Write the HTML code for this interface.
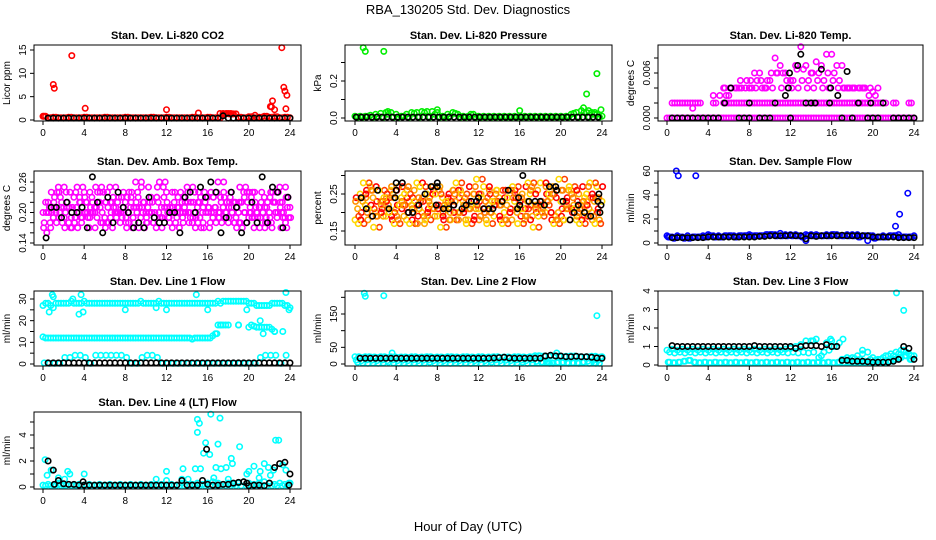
<!DOCTYPE html>
<html><head><meta charset="utf-8"><style>
body{margin:0;background:#fff;}
svg{display:block;font-family:"Liberation Sans",Arial,sans-serif;}
</style></head><body>
<svg id="chart" width="936" height="540" viewBox="0 0 936 540" xmlns="http://www.w3.org/2000/svg">
<text x="468" y="14" text-anchor="middle" font-size="13">RBA_130205  Std. Dev. Diagnostics</text>
<text x="468" y="531" text-anchor="middle" font-size="13">Hour of Day (UTC)</text>
</svg>
<script>
// ---- data ----
const H49 = []; for (let i = 0; i <= 48; i++) H49.push(i / 2);
const xTicks = [0, 4, 8, 12, 16, 20, 24];

// P1 CO2
const co2Red = [0.8,0.5,0.6,0.5,0.5,0.6,0.5,0.5,0.6,0.5,0.5,0.5,0.6,0.5,0.5,0.5,0.6,0.5,0.5,0.5,0.5,0.6,0.5,0.5,0.6,0.5,0.5,0.5,0.5,0.6,0.5,0.5,0.6,0.5,0.5,1.3,1.4,1.3,0.6,0.5,0.7,0.5,0.6,0.8,0.6,0.7,0.5,0.6,0.5];
const co2Black = [null,0.4,0.4,0.4,0.4,0.4,0.4,0.4,0.4,0.4,0.4,0.4,0.4,0.4,0.4,0.4,0.4,0.4,0.4,0.4,0.4,0.4,0.4,0.4,0.4,0.4,0.4,0.4,0.4,0.4,0.4,0.4,0.4,0.4,0.4,0.9,0.4,0.4,0.4,0.4,0.4,0.4,0.4,0.4,0.4,0.4,0.4,0.4,0.4];
const co2OutH = [0.1,1,1.1,2.8,4.1,12,15.1,17.2,17.5,17.8,18.1,18.4,20.6,22.1,22.3,22.5,23.2,23.4,23.5,23.6,23.7,22.2];
const co2OutV = [0.8,7.6,6.8,13.8,2.5,2.2,1.5,1.4,1.4,1.4,1.3,1.3,1,2.9,4.1,2.2,15.5,7,6.2,2.4,5.3,2.8];
const co2Ticks = [0,5,10,15]; const co2Labels = ["0","5","10","15"];

// P2 Pressure
const presGreen = [0.01,0.01,0.01,0.015,0.02,0.025,0.03,0.03,0.02,0.01,0.02,0.03,0.03,0.035,0.035,0.035,0.03,0.01,0.02,0.03,0.02,0.01,0.01,0.02,0.01,0.01,0.01,0.01,0.01,0.01,0.01,0.01,0.01,0.01,0.01,0.01,0.01,0.01,0.01,0.01,0.01,0.01,0.02,0.03,0.04,0.03,0.03,0.02,0.01];
const presGreen2 = [0.005,0.005,0.01,0.005,0.01,0.005,0.02,0.005,0.005,0.01,0.005,0.025,0.005,0.03,0.005,0.02,0.005,0.005,0.01,0.025,0.005,0.005,0.02,0.005,0.005,0.005,0.005,0.005,0.005,0.005,0.005,0.005,0.005,0.005,0.005,0.005,0.005,0.005,0.005,0.005,0.005,0.005,0.025,0.005,0.03,0.005,0.02,0.005,null];
const presBlack = [0.005,0.005,0.005,0.005,0.005,0.005,0.005,0.005,0.005,0.005,0.005,0.005,0.005,0.005,0.005,0.005,0.005,0.005,0.005,0.005,0.005,0.005,0.005,0.005,0.005,0.005,0.005,0.005,0.005,0.005,0.005,0.005,0.005,0.005,0.005,0.005,0.005,0.005,0.005,0.005,0.005,0.005,0.005,0.005,0.005,0.005,0.005,0.005,0.005];
const presOutH = [0.8,1,2.8,8,16,22.2,22.5,23.5,23.9,22.7,23.3,3.2];
const presOutV = [0.38,0.36,0.36,0.045,0.04,0.055,0.13,0.24,0.045,0.04,0.03,0.035];
const presTicks = [0,0.1,0.2,0.3]; const presLabels = ["0.0","","0.2",""];

// P3 Li-820 Temp
const tmpMag0 = [0,0,0,0,0,0,0,0,0,0,0,0,0,0,0,0,0,0,0,0,0,0,0,0,0,0,0,0,0,0,0,0,0,0,0,0,0,0,0,0,0,0,0,0,0,0,0,0,0];
const tmpMag2 = [null,0.002,0.002,0.002,0.002,0.002,0.002,null,null,0.002,null,0.002,0.002,0.002,0.002,0.002,0.002,0.002,0.002,0.002,0.002,0.002,0.002,0.002,0.002,0.002,0.002,0.002,0.002,0.002,0.002,0.002,0.002,0.002,0.002,0.002,0.002,0.002,0.002,0.002,0.002,0.002,0.002,null,0.002,null,null,0.002,null];
const tmpCloudA = [null,null,null,null,null,0.0013,null,null,null,0.003,null,0.004,0.003,null,0.004,null,0.004,0.006,0.006,0.004,0.005,0.008,0.007,0.006,0.005,0.007,0.0095,0.007,0.006,0.0075,0.007,0.0085,0.0085,0.007,0.007,0.004,0.004,null,0.004,null,0.0035,0.004,null,null,null,null,null,null,null];
const tmpCloudB = [null,null,null,null,null,null,null,null,null,null,null,0.003,0.004,0.004,0.004,0.005,0.004,0.005,0.004,0.005,0.004,0.006,0.006,0.004,0.005,0.004,0.0065,0.005,0.004,0.006,0.005,0.004,0.006,0.005,0.004,0.004,0.004,0.004,0.004,0.004,0.003,null,null,null,null,null,null,null,null];
const tmpBlackH = [0.5,1,1.5,2,2.5,3,3.5,4,4.5,5,7,7.5,8,9,9.5,10,12,17,18,19.5,20,20.5,22,22.5,23,23.5,24,5.6,8,10.5,13.5,14,14.4,15.8,18.6,19.8,21,6.2,11.5,11.8,11.9,13,12.7,15,15.9,16.6,17.5];
const tmpBlackV = [0,0,0,0,0,0,0,0,0,0,0,0,0,0,0,0,0,0,0,0,0,0,0,0,0,0,0,0.002,0.002,0.002,0.002,0.002,0.002,0.002,0.002,0.002,0.002,0.004,0.003,0.004,0.006,0.0085,0.007,0.0065,0.004,0.003,0.0062];
const tmpTicks = [0,0.002,0.004,0.006,0.008]; const tmpLabels = ["0.000","","","0.006",""];

// P4 Amb box temp
const ambA = [0.20,0.22,0.19,0.25,0.21,0.18,0.23,0.20,0.24,0.17,0.21,0.22,0.19,0.25,0.20,0.18,0.22,0.21,0.26,0.19,0.20,0.23,0.17,0.21,0.24,0.20,0.19,0.22,0.25,0.18,0.21,0.20,0.23,0.19,0.26,0.21,0.18,0.22,0.20,0.24,0.19,0.17,0.21,0.23,0.20,0.22,0.25,0.19,0.21];
const ambB = [0.18,0.21,0.23,0.20,0.17,0.24,0.19,0.22,0.20,0.21,0.25,0.18,0.22,0.20,0.19,0.23,0.17,0.24,0.20,0.21,0.18,0.22,0.25,0.19,0.20,0.21,0.23,0.18,0.20,0.22,0.24,0.17,0.21,0.20,0.19,0.23,0.22,0.18,0.25,0.20,0.21,0.22,0.19,0.18,0.24,0.20,0.17,0.23,0.20];
const ambC = [0.22,0.17,0.20,0.21,0.24,0.19,0.21,0.18,0.22,0.23,0.19,0.20,0.24,0.17,0.22,0.21,0.20,0.19,0.23,0.22,0.25,0.18,0.20,0.23,0.19,0.22,0.17,0.21,0.20,0.24,0.19,0.22,0.18,0.21,0.23,0.20,0.24,0.19,0.22,0.18,0.23,0.20,0.24,0.21,0.17,0.19,0.22,0.21,0.18];
const ambD = [0.16,0.20,0.24,0.18,0.22,0.21,0.17,0.25,0.19,0.20,0.22,0.24,0.18,0.21,0.23,0.20,0.24,0.18,0.21,0.17,0.22,0.20,0.19,0.26,0.21,0.18,0.24,0.20,0.22,0.19,0.17,0.23,0.20,0.24,0.18,0.22,0.20,0.21,0.17,0.22,0.24,0.19,0.20,0.18,0.22,0.24,0.20,0.19,0.23];
const ambBlack = [0.15,0.21,0.21,0.19,0.22,0.20,0.20,0.21,0.17,0.27,0.22,0.16,0.23,0.18,0.24,0.21,0.20,0.17,0.18,0.17,0.23,0.19,0.18,0.18,0.20,0.20,0.16,0.23,0.24,0.20,0.25,0.23,0.26,0.24,0.16,0.19,0.24,0.21,0.16,0.18,0.22,0.18,0.27,0.18,0.25,0.24,0.17,0.23,null];
const ambTicks = [0.14,0.16,0.18,0.20,0.22,0.24,0.26]; const ambLabels = ["0.14","","","0.20","","","0.26"];

// P5 Gas stream RH
const rhA = [0.18,0.25,0.22,0.27,0.20,0.23,0.19,0.26,0.21,0.24,0.18,0.22,0.28,0.20,0.25,0.21,0.19,0.24,0.22,0.26,0.20,0.23,0.18,0.25,0.21,0.27,0.22,0.19,0.24,0.20,0.26,0.23,0.21,0.18,0.25,0.22,0.28,0.20,0.24,0.19,0.23,0.21,0.26,0.18,0.22,0.25,0.20,0.27,0.23];
const rhB = [0.24,0.20,0.26,0.19,0.23,0.21,0.25,0.18,0.22,0.27,0.20,0.24,0.19,0.23,0.21,0.26,0.22,0.18,0.25,0.20,0.24,0.21,0.27,0.19,0.23,0.20,0.25,0.22,0.18,0.26,0.21,0.24,0.19,0.27,0.22,0.20,0.23,0.25,0.18,0.26,0.21,0.24,0.20,0.23,0.27,0.19,0.24,0.21,0.26];
const rhC = [0.21,0.23,0.18,0.24,0.26,0.19,0.22,0.24,0.27,0.19,0.23,0.26,0.21,0.17,0.24,0.19,0.27,0.21,0.20,0.23,0.26,0.18,0.22,0.21,0.25,0.18,0.20,0.26,0.23,0.22,0.18,0.20,0.25,0.23,0.19,0.26,0.21,0.23,0.27,0.20,0.18,0.26,0.22,0.25,0.19,0.21,0.23,0.18,0.24];
const rhD = [0.19,0.17,0.28,0.21,0.16,0.26,0.24,0.20,0.17,0.22,0.25,0.17,0.23,0.27,0.18,0.22,0.25,0.16,0.23,0.18,0.28,0.25,0.17,0.22,0.29,0.24,0.17,0.23,0.26,0.17,0.24,0.27,0.17,0.21,0.28,0.16,0.19,0.22,0.25,0.17,0.29,0.18,0.27,0.21,0.17,0.24,0.28,0.17,0.20];
const rhBlackH = [0.6,1.1,1.7,2.2,2.8,3.3,3.9,4,4,4.6,5.2,5.6,6.2,6.8,7.4,7.9,8,8,8.6,9.1,9.6,10.4,10.8,11.3,11.8,12,12.5,13,13.4,14.3,14.9,15.8,15.9,16,16.3,16.9,17.5,18,18.4,18.9,19.5,19.6,20.2,20.9,21.3,21.7,22.3,22.9,23.6,23.7,23.8,23.9];
const rhBlackV = [0.24,0.21,0.19,0.26,0.32,0.21,0.24,0.26,0.28,0.28,0.2,0.2,0.22,0.25,0.27,0.22,0.27,0.28,0.21,0.21,0.22,0.21,0.22,0.23,0.23,0.24,0.21,0.21,0.21,0.23,0.26,0.21,0.24,0.22,0.3,0.23,0.23,0.23,0.22,0.27,0.27,0.26,0.23,0.18,0.2,0.22,0.2,0.19,0.23,0.25,0.2,0.22];
const rhTicks = [0.15,0.20,0.25,0.30]; const rhLabels = ["0.15","","0.25",""];

// P6 Sample flow
const sfBlueA = [6,5,6,5,6,5,5,6,7,6,6,5,6,6,6,6,7,6,6,6,7,7,8,7,7,7,6,7,7,7,6,7,7,7,6,7,7,7,6,6,6,5,6,5,6,7,5,5,6];
const sfBlueB = [5,4,5,4,4,5,5,5,6,5,5,6,6,5,6,6,6,6,6,7,7,6,6,6,6,6,5,6,6,6,6,6,7,6,6,6,6,5,6,6,4,5,5,6,6,5,5,5,5];
const sfBlack = [null,4.5,4.5,4.5,4.5,4.5,4.5,4.5,5,5,5,5,5,5,5,5,5,5,5.5,5.5,6,6,6,6,6.5,6,6,3.5,6,5.5,6,6,6,6,6.5,6,6,6,6,6,5,5,5,5,5,4.5,4.5,4.5,4.5];
const sfOutH = [0.9,1.1,2.8,13.5,19.5,22.2,22.6,23.4];
const sfOutV = [60,56,56,2,2,14,24,41.5];
const sfTicks = [0,10,20,30,40,50,60]; const sfLabels = ["0","","20","","40","","60"];

// P7 Line 1
const l1HighA = [27,28,26,28,28,28,28,28,29,28,28,28,28,28,28,28,28,28,28,29,28,28,28,28,28,28,28,28,28,28,28,28,28,28,29,29,29,29,29,29,28,28,27,27,27,28,28,27,26];
const l1HighB = [28,27,28,28,28,29,28,28,28,28,28,28,28,28,28,28,28,28,28,28,28,28,29,28,28,28,28,28,28,28,28,28,28,28,28,29,29,29,29,29,28,27,27,27,28,28,28,27,25];
const l1MidA = [12.5,12,12,12,12,12,12,12,12,12,12,12,12,12,12,12,12,12,12,12,12,12,12,12,12,12,12,12,12,11.5,12,12,12,13,18,18,18,null,18,null,17,17.5,17,17,17,15,null,null,null];
const l1MidB = [12,12,12,12,12,12,12,12,12,12,12,12,12,12,12,12,12,12,12,12,12,12,12,12,12,12,12,12,12,12,12,12,12,14,18,18,null,null,null,null,18,17,17,17,16,null,null,null,null];
const l1Low = [0.5,0.3,0.3,0.3,3,3,4,4,3,0.3,4,4,4,4,4,4,3,0.3,0.3,3,4,4,3,0.3,0.3,0.3,0.3,0.3,0.3,0.3,0.3,0.3,0.3,0.3,0.3,0.3,0.3,0.3,0.3,0.3,0.3,0.3,3,4,4,4,0.3,4,0.3];
const l1Black = [null,0.5,0.5,0.5,0.5,0.5,0.5,0.5,0.5,0.5,0.5,0.5,0.5,0.5,0.5,0.5,0.5,0.5,0.5,0.5,0.5,0.5,0.5,0.5,0.5,0.5,0.5,0.5,0.5,0.5,0.5,0.5,0.5,0.5,0.5,0.5,0.5,0.5,0.5,0.5,0.5,0.5,0.5,0.5,0.5,0.5,0.5,0.5,0.5];
const l1OutH = [0.9,1,0.6,2.9,3.7,3.5,3.9,8,11,12,14.9,16,17.3,19,19.8,21.1,21.4,22.5,23.3,23.6,23.9,16.9];
const l1OutV = [32,31,24,30,32,23,24,25,26,25,32,25,18,18,25,20,14,15,15,33,25,14];
const l1Ticks = [0,5,10,15,20,25,30]; const l1Labels = ["0","","10","","20","","30"];

// P8 Line 2
const l2CyanA = [22,20,22,21,20,22,20,22,20,21,20,22,20,21,22,20,21,20,22,21,20,22,21,20,22,20,21,22,20,21,20,22,21,20,22,25,24,23,25,24,22,23,24,22,21,22,23,21,22];
const l2CyanB = [5,3,2,3,2,3,5,3,2,3,2,3,2,3,5,2,3,3,2,3,2,3,2,3,2,3,5,3,2,3,2,3,5,2,3,3,3,3,2,5,5,2,3,2,5,2,3,2,null];
const l2CyanC = [12,10,12,11,10,12,10,12,10,11,10,12,10,11,12,10,11,10,12,11,10,12,11,10,12,10,11,12,10,11,10,12,11,10,12,8,6,5,4,4,4,4,4,4,5,8,10,11,null];
const l2Black = [null,17,17,17,17,17,17,17,17,17,17,17,17,17,17,17,17,17,17,17,17,17,17,17,17,17,17,18,19,20,18,17,17,17,17,17,17,24,26,24,24,22,22,23,22,22,20,18,17];
const l2OutH = [0.9,1,2.8,3.6,19.6,18.9,23.4,23.5];
const l2OutV = [212,203,205,33,33,2,2,145];
const l2Ticks = [0,50,100,150,200]; const l2Labels = ["0","50","","150",""];

// P9 Line 3
const l3CyanA = [0.8,0.85,0.8,0.85,0.8,0.85,0.8,0.85,0.8,0.85,0.8,0.85,0.8,0.85,0.8,0.85,0.8,0.85,0.8,0.85,0.8,0.85,0.8,0.85,0.9,1.0,1.1,1.3,1.3,1.4,0.5,1.2,1.3,1.0,0.3,0.4,0.4,0.5,0.6,0.7,0.4,0.3,0.4,0.5,0.5,0.6,0.8,0.6,0.5];
const l3CyanB = [0.15,0.12,0.15,0.2,0.25,0.15,0.12,0.15,0.12,0.15,0.12,0.15,0.12,0.15,0.12,0.15,0.12,0.15,0.12,0.15,0.12,0.15,0.12,0.15,0.12,0.15,0.12,0.15,0.12,0.15,0.12,0.15,0.12,0.15,0.12,0.15,0.12,0.15,0.12,0.15,0.12,0.15,0.12,0.2,0.3,0.4,0.5,0.3,0.2];
const l3CyanC = [0.7,0.65,0.7,0.65,0.7,0.65,0.7,0.65,0.7,0.65,0.7,0.65,0.7,0.65,0.7,0.65,0.7,0.65,0.7,0.65,0.7,0.65,0.7,0.65,0.7,0.65,0.7,0.65,0.7,0.4,0.7,0.8,1.0,1.2,0.3,0.3,0.35,0.3,0.2,0.3,0.25,0.3,0.5,0.6,0.7,0.8,0.7,0.5,null];
const l3Black = [null,1.05,1.0,1.0,1.0,1.0,1.0,1.0,1.0,1.0,1.0,1.0,1.0,1.0,1.0,1.0,1.0,1.05,1.0,1.0,1.0,1.0,1.0,1.0,1.0,0.9,1.0,1.05,1.05,1.05,1.0,1.1,1.0,1.0,0.25,0.25,0.2,0.2,0.2,0.18,0.15,0.15,0.15,0.15,0.2,0.3,1.0,0.9,0.3];
const l3OutH = [22.3,23,19,15.9,17.1,14.2];
const l3OutV = [3.9,2.95,0.8,1.4,1.4,1.3];
const l3Ticks = [0,1,2,3,4]; const l3Labels = ["0","1","2","3","4"];

// P10 Line 4
const l4CyanA = [0.15,0.2,0.15,0.2,0.15,0.2,0.15,0.2,0.15,0.2,0.15,0.2,0.15,0.2,0.15,0.2,0.15,0.2,0.15,0.2,0.15,0.2,0.15,0.2,0.15,0.2,0.15,0.3,0.15,0.2,0.3,0.2,0.3,0.4,0.3,0.2,0.3,0.2,0.3,0.4,0.3,0.2,0.3,0.4,0.3,0.2,0.3,0.2,0.3];
const l4CyanB = [0.1,0.1,0.1,0.1,0.1,0.1,0.1,0.1,0.1,0.1,0.1,0.1,0.1,0.1,0.1,0.1,0.1,0.1,0.1,0.1,0.1,0.1,0.1,0.1,0.1,0.1,0.1,0.1,0.1,0.1,0.1,0.1,0.1,0.1,0.1,0.1,0.1,0.1,0.1,0.1,0.1,0.1,0.1,0.1,0.1,0.1,0.1,0.1,null];
const l4OutH = [0.2,0.4,0.8,1.5,2.1,2.4,2.6,4,11,12,12,13.5,13.6,14.1,14.8,15,15,15.2,15.3,15.6,15.8,16.2,16.3,16.8,17.2,17,17.3,17.8,18.3,18.4,19.1,19.8,20,20.5,21.1,21.5,21.9,22.1,22.4,22.6,22.9,23.3,23.6,23.9,16.6,18,21];
const l4OutV = [2.1,0.9,1.3,0.7,0.6,1.2,1.0,1.0,0.6,1.2,0.5,0.6,1.4,0.6,1.4,5.2,4.2,4.9,1.4,2.6,3.4,2.5,5.6,1.5,5.3,3.3,1.4,1.5,2.2,1.8,3.1,1.0,1.2,1.6,1.2,1.8,1.5,0.9,1.3,3.6,3.6,1.7,1.3,0.3,0.7,0.6,0.7];
const l4Black = [null,2.0,1.3,0.5,0.25,0.2,0.2,0.15,0.15,0.15,0.15,0.15,0.15,0.15,0.15,0.15,0.15,0.15,0.15,0.15,0.15,0.15,0.15,0.15,0.15,0.15,0.15,0.5,0.15,0.15,0.15,0.5,0.2,0.15,0.15,0.2,0.2,0.3,0.35,0.4,0.1,0.15,0.15,0.1,0.3,1.5,1.8,1.9,1.0];
const l4BlackXH = [1.1,3.9,15.9,23.9,19.8];
const l4BlackXV = [0.2,0.4,2.9,0.15,0.3];
const l4Ticks = [0,1,2,3,4,5]; const l4Labels = ["0","","2","","4",""];

// ---- layout ----
const cols = [{l:34,r:301,x0:43,x24:290},{l:345,r:612,x0:355,x24:602},{l:658,r:923,x0:667,x24:914}];
const rows = [{t:45,b:121},{t:171,b:245},{t:291,b:366},{t:412,b:489}];
const NS = "http://www.w3.org/2000/svg";
const svg = document.getElementById('chart');

function mk(tag, attrs, parent) {
  const e = document.createElementNS(NS, tag);
  for (const k in attrs) e.setAttribute(k, attrs[k]);
  (parent || svg).appendChild(e);
  return e;
}

function panel(slug, title, ylabel, c, r, ya, pa, yb, pb, ticks, labels, series) {
  const C = cols[c], R = rows[r];
  const g = mk('g', {});
  
  
  const xs = h => C.x0 + (h / 24) * (C.x24 - C.x0);
  const ys = v => pa + (v - ya) * (pb - pa) / (yb - ya);
  const t = mk('text', {x:(C.l + C.r) / 2, y:R.t - 6, 'text-anchor':'middle', 'font-size':11, 'font-weight':'bold'}, g);
  t.textContent = title;
  
  
  const yl = mk('text', {x:0, y:0, 'text-anchor':'middle', 'font-size':10, transform:`translate(${C.l - 24},${(R.t + R.b) / 2}) rotate(-90)`}, g);
  yl.textContent = ylabel;
  
  
  series.forEach(s => {
    const sg = mk('g', {fill:'none', stroke:s.color, 'stroke-width':1.6}, g);
    
    
    s.v.forEach((v, i) => {
      if (v === null || v === undefined) return;
      const h = s.h[i] + (s.off || 0);
      if (h > 24.1 || h < -0.1) return;
      const cy = ys(v);
      if (cy < R.t - 2 || cy > R.b + 3) return;
      const p = mk('circle', {cx:xs(h).toFixed(1), cy:cy.toFixed(1), r:2.7}, sg);
      
      
    });
  });
  const box = mk('rect', {x:C.l, y:R.t, width:C.r - C.l, height:R.b - R.t, fill:'none', stroke:'#000', 'stroke-width':1}, g);
  
  
  xTicks.forEach(h => {
    const x = xs(h);
    mk('line', {x1:x, x2:x, y1:R.b, y2:R.b + 4, stroke:'#000'}, g);
    const tl = mk('text', {x:x, y:R.b + 15, 'text-anchor':'middle', 'font-size':10}, g);
    tl.textContent = String(h);
    
    
  });
  ticks.forEach((v, i) => {
    const y = ys(v);
    mk('line', {x1:C.l - 4, x2:C.l, y1:y, y2:y, stroke:'#000'}, g);
    if (labels[i]) {
      const tl = mk('text', {x:0, y:0, 'text-anchor':'middle', 'font-size':10, transform:`translate(${C.l - 8},${y}) rotate(-90)`}, g);
      tl.textContent = labels[i];
      
      
    }
  });
}

const RED='#ff0000', BLK='#000000', GRN='#00ee00', MAG='#ff00ff', YEL='#ffd700', BLU='#0000ff', CYN='#00ffff';

panel('co2','Stan. Dev. Li-820 CO2','Licor ppm',0,0, 0,120,15,50, co2Ticks, co2Labels, [
  {name:'red-series', color:RED, h:H49, v:co2Red},
  {name:'red-series-b', color:RED, h:H49, off:0.25, v:co2Red},
  {name:'red-outliers', color:RED, h:co2OutH, v:co2OutV},
  {name:'black-series', color:BLK, h:H49, v:co2Black}]);
panel('pressure','Stan. Dev. Li-820 Pressure','kPa',1,0, 0,118,0.2,81, presTicks, presLabels, [
  {name:'green-series', color:GRN, h:H49, v:presGreen},
  {name:'green-series-2', color:GRN, h:H49, off:0.25, v:presGreen2},
  {name:'green-outliers', color:GRN, h:presOutH, v:presOutV},
  {name:'black-series', color:BLK, h:H49, off:0.12, v:presBlack}]);
panel('li820-temp','Stan. Dev. Li-820 Temp.','degrees C',2,0, 0,118,0.006,73, tmpTicks, tmpLabels, [
  {name:'magenta-zero', color:MAG, h:H49, v:tmpMag0},
  {name:'magenta-zero-b', color:MAG, h:H49, off:0.25, v:tmpMag0},
  {name:'magenta-level2', color:MAG, h:H49, v:tmpMag2},
  {name:'magenta-level2b', color:MAG, h:H49, off:0.25, v:tmpMag2},
  {name:'magenta-cloud', color:MAG, h:H49, v:tmpCloudA},
  {name:'magenta-cloud-2', color:MAG, h:H49, off:0.25, v:tmpCloudB},
  {name:'magenta-cloud-3', color:MAG, h:H49, off:-0.37, v:tmpCloudB},
  {name:'black-series', color:BLK, h:tmpBlackH, v:tmpBlackV}]);
panel('amb-box-temp','Stan. Dev. Amb. Box Temp.','degrees C',0,1, 0.14,243,0.26,182, ambTicks, ambLabels, [
  {name:'magenta-a', color:MAG, h:H49, v:ambA},
  {name:'magenta-b', color:MAG, h:H49, off:0.12, v:ambB},
  {name:'magenta-c', color:MAG, h:H49, off:0.25, v:ambC},
  {name:'magenta-d', color:MAG, h:H49, off:0.37, v:ambD},
  {name:'magenta-e', color:MAG, h:H49, off:-0.44, v:ambC},
  {name:'magenta-f', color:MAG, h:H49, off:0.56, v:ambA},
  {name:'magenta-g', color:MAG, h:H49, off:-0.19, v:ambD},
  {name:'magenta-h', color:MAG, h:H49, off:0.69, v:ambB},
  {name:'black-series', color:BLK, h:H49, off:0.3, v:ambBlack}]);
panel('gas-rh','Stan. Dev. Gas Stream RH','percent',1,1, 0.15,231,0.25,194, rhTicks, rhLabels, [
  {name:'yellow-a', color:YEL, h:H49, v:rhA},
  {name:'red-b', color:RED, h:H49, off:0.12, v:rhB},
  {name:'yellow-c', color:'#ffa500', h:H49, off:0.25, v:rhC},
  {name:'red-d', color:'#ff4000', h:H49, off:0.37, v:rhD},
  {name:'orange-e', color:'#ff9000', h:H49, off:-0.44, v:rhC},
  {name:'red-f', color:RED, h:H49, off:0.56, v:rhA},
  {name:'yellow-g', color:YEL, h:H49, off:-0.19, v:rhD},
  {name:'orange-h', color:'#ff8000', h:H49, off:0.69, v:rhB},
  {name:'black-series', color:BLK, h:rhBlackH, v:rhBlackV}]);
panel('sample-flow','Stan. Dev. Sample Flow','ml/min',2,1, 0,243,60,171, sfTicks, sfLabels, [
  {name:'blue-a', color:BLU, h:H49, v:sfBlueA},
  {name:'blue-b', color:BLU, h:H49, off:0.25, v:sfBlueB},
  {name:'blue-c', color:BLU, h:H49, off:0.12, v:sfBlueB},
  {name:'blue-outliers', color:BLU, h:sfOutH, v:sfOutV},
  {name:'black-series', color:BLK, h:H49, v:sfBlack}]);
panel('line1','Stan. Dev. Line 1 Flow','ml/min',0,2, 0,364,30,299, l1Ticks, l1Labels, [
  {name:'cyan-high-a', color:CYN, h:H49, v:l1HighA},
  {name:'cyan-high-b', color:CYN, h:H49, off:0.25, v:l1HighB},
  {name:'cyan-mid-a', color:CYN, h:H49, v:l1MidA},
  {name:'cyan-mid-b', color:CYN, h:H49, off:0.25, v:l1MidB},
  {name:'cyan-low', color:CYN, h:H49, off:0.12, v:l1Low},
  {name:'cyan-outliers', color:CYN, h:l1OutH, v:l1OutV},
  {name:'black-series', color:BLK, h:H49, v:l1Black}]);
panel('line2','Stan. Dev. Line 2 Flow','ml/min',1,2, 0,364,150,314, l2Ticks, l2Labels, [
  {name:'cyan-a', color:CYN, h:H49, v:l2CyanA},
  {name:'cyan-b', color:CYN, h:H49, off:0.25, v:l2CyanB},
  {name:'cyan-c', color:CYN, h:H49, off:0.12, v:l2CyanC},
  {name:'cyan-d', color:CYN, h:H49, off:0.37, v:l2CyanA},
  {name:'cyan-outliers', color:CYN, h:l2OutH, v:l2OutV},
  {name:'black-series', color:BLK, h:H49, v:l2Black}]);
panel('line3','Stan. Dev. Line 3 Flow','ml/min',2,2, 0,365,4,291, l3Ticks, l3Labels, [
  {name:'cyan-a', color:CYN, h:H49, v:l3CyanA},
  {name:'cyan-b', color:CYN, h:H49, off:0.25, v:l3CyanB},
  {name:'cyan-b2', color:CYN, h:H49, off:0.12, v:l3CyanB},
  {name:'cyan-c', color:CYN, h:H49, off:0.25, v:l3CyanC},
  {name:'cyan-outliers', color:CYN, h:l3OutH, v:l3OutV},
  {name:'black-series', color:BLK, h:H49, v:l3Black}]);
panel('line4','Stan. Dev. Line 4 (LT) Flow','ml/min',0,3, 0,487,4,435, l4Ticks, l4Labels, [
  {name:'cyan-a', color:CYN, h:H49, v:l4CyanA},
  {name:'cyan-b', color:CYN, h:H49, off:0.25, v:l4CyanB},
  {name:'cyan-outliers', color:CYN, h:l4OutH, v:l4OutV},
  {name:'black-series', color:BLK, h:H49, v:l4Black},
  {name:'black-extra', color:BLK, h:l4BlackXH, v:l4BlackXV}]);
</script>
</body></html>
